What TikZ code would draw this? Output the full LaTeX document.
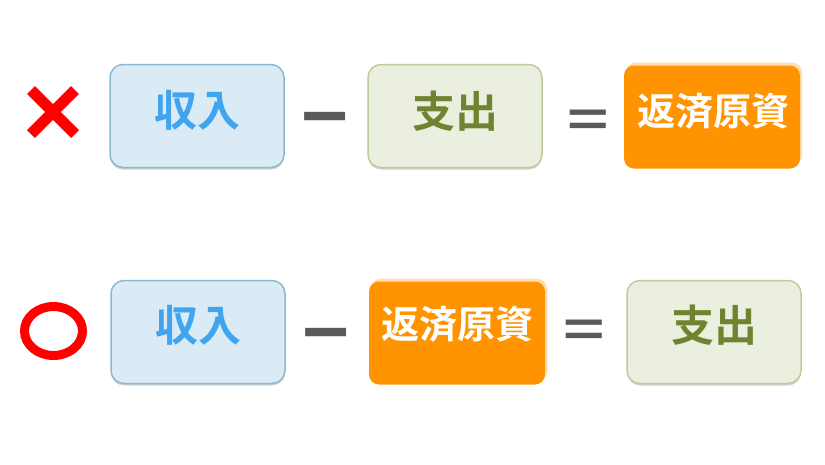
\documentclass[tikz,border=0pt]{standalone}
\usepackage{fontspec}
\newfontfamily\cjk{Noto Sans CJK JP}[BoldFont={Noto Sans CJK JP Bold}]
\usetikzlibrary{positioning}
\usetikzlibrary{shapes.geometric}
\usetikzlibrary{shadows}
\definecolor{incomefill}{HTML}{DAEBF5}
\definecolor{incomeline}{HTML}{8DB8D0}
\definecolor{incometext}{HTML}{40A5EE}
\definecolor{costfill}{HTML}{EBEFDF}
\definecolor{costline}{HTML}{C0CB9C}
\definecolor{costtext}{HTML}{6F8430}
\definecolor{repayfill}{HTML}{FF9400}
\definecolor{opgray}{HTML}{5A5A5A}
\newcommand{\up}[2]{\raisebox{#1pt}{#2}}
\tikzset{
    box/.style={rounded corners=13pt, minimum width=174pt, minimum height=103pt, inner sep=0pt, font=\cjk\bfseries\fontsize{43}{43}\selectfont},
    softshadow/.style={drop shadow={fill=black, opacity=.18, shadow xshift=0pt, shadow yshift=-2pt}},
    incomebox/.style={box, softshadow, draw=incomeline, line width=1.5pt, fill=incomefill, text=incometext},
    costbox/.style={box, softshadow, draw=costline, line width=1.5pt, fill=costfill, text=costtext},
    repaybox/.style={box, rounded corners=10pt, drop shadow={fill=repayfill, opacity=.3, shadow xshift=2pt, shadow yshift=3pt}, fill=repayfill, text=white, minimum width=176pt, font=\cjk\bfseries\fontsize{38}{38}\selectfont},
    minusop/.style={font=\cjk\bfseries\fontsize{80}{80}\selectfont, text=opgray, inner sep=0pt},
    equalop/.style={font=\cjk\bfseries\fontsize{64}{64}\selectfont, text=opgray, inner sep=0pt},
}
\begin{document}
\begin{tikzpicture}[x=1pt,y=-1pt]
    \useasboundingbox (0,0) rectangle (825,464);
    \node[incomebox] (In1) at (197,116) {\up{16}{収入}};
    \node[costbox] (Out1) at (455,116) {\up{14}{支出}};
    \node[repaybox] (Rep1) at (712,117) {\up{16}{\hspace{3pt}返済原資}};
    \node[minusop] (Minus1) at (325,129) {−};
    \node[equalop] (Eq1) at (588.5,124.5) {\scalebox{1.1}[0.8]{=}};
    \node[incomebox] (In2) at (198,332) {\up{18}{収入}};
    \node[repaybox] (Rep2) at (457,333) {\up{22}{返済原資}};
    \node[costbox] (Out2) at (714,332) {\up{18}{支出}};
    \node[minusop] (Minus2) at (326,345) {−};
    \node[equalop] (Eq2) at (584,334) {\scalebox{1.1}[0.8]{=}};
    \coordinate (Xa) at (31,90);
    \coordinate (Xb) at (75,134);
    \coordinate (Xc) at (75,90);
    \coordinate (Xd) at (31,134);
    \draw[red, line width=11pt] (Xa) -- (Xb);
    \draw[red, line width=11pt] (Xc) -- (Xd);
    \node[draw=red, line width=9pt, ellipse, minimum width=58pt, minimum height=49pt, inner sep=0pt] (Ok) at (53.5,331) {};
\end{tikzpicture}
\end{document}
